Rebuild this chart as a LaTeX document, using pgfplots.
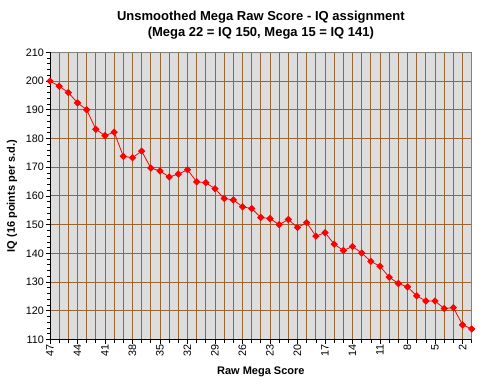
\documentclass[border=0pt]{standalone}
\usepackage{pgfplots}
\pgfplotsset{compat=1.18}
\usepackage{fontspec}
\setmainfont{Liberation Sans}
\definecolor{bggray}{RGB}{221,221,221}
\definecolor{gridbrown}{RGB}{153,102,51}
\definecolor{bordergray}{RGB}{128,128,128}
\begin{document}
\begin{tikzpicture}[x=1pt,y=1pt]
\path[use as bounding box] (-50,-46.5) rectangle (436,339.5);
\begin{axis}[
  at={(0,0)}, anchor=south west,
  scale only axis,
  width=421.7pt, height=287.2pt,
  x dir=reverse,
  xmin=1, xmax=47,
  ymin=110, ymax=210,
  xtick={2,5,...,47},
  minor xtick={1,...,47},
  ytick={110,120,...,210},
  minor ytick={110,112,...,210},
  xmajorgrids=true, xminorgrids=true, ymajorgrids=true,
  grid style={gridbrown, line width=0.9pt},
  minor grid style={gridbrown, line width=0.9pt},
  axis background/.style={fill=bggray},
  axis line style={bordergray, line width=0.9pt},
  tick pos=left,
  tick align=outside,
  major tick length=4pt,
  minor tick length=3pt,
  every tick/.style={black, line width=0.7pt},
  /pgf/number format/assume math mode=true,
  tick label style={font=\fontsize{10.8}{12}\selectfont},
  xticklabel style={rotate=90, anchor=east, inner sep=1pt},
  yticklabel style={inner sep=2pt},
  title={Unsmoothed Mega Raw Score - IQ assignment\\(Mega 22 = IQ 150, Mega 15 = IQ 141)},
  title style={font=\bfseries\fontsize{13}{16}\selectfont, align=center, at={(axis description cs:0.5,1)}, anchor=center, yshift=21pt},
  xlabel={Raw Mega Score},
  xlabel style={font=\bfseries\fontsize{11}{13}\selectfont, at={(axis description cs:0.5,0)}, anchor=center, yshift=-32pt},
  ylabel={IQ (16 points per s.d.)},
  ylabel style={font=\bfseries\fontsize{11}{13}\selectfont, at={(axis description cs:-0.0901,0.5)}, anchor=center},
]
\addplot[red, line width=0.8pt, mark=square*, mark size=2.2pt, mark options={rotate=45, fill=red, draw=red}] coordinates {
(47,200.0) (46,198.2) (45,196.0) (44,192.4) (43,190.0) (42,183.2) (41,181.0) (40,182.2)
(39,173.8) (38,173.3) (37,175.6) (36,169.7) (35,168.7) (34,166.6) (33,167.6) (32,169.1)
(31,164.9) (30,164.6) (29,162.5) (28,159.1) (27,158.6) (26,156.2) (25,155.6) (24,152.5)
(23,152.1) (22,150.0) (21,151.8) (20,149.0) (19,150.7) (18,146.0) (17,147.2) (16,143.2)
(15,141.0) (14,142.4) (13,140.1) (12,137.2) (11,135.5) (10,131.7) (9,129.5) (8,128.3)
(7,125.2) (6,123.4) (5,123.4) (4,120.8) (3,121.1) (2,115.1) (1,113.7)
};
\draw[black, line width=0.9pt] (rel axis cs:0,1) -- (rel axis cs:0,0) -- (rel axis cs:1,0);
\end{axis}
\end{tikzpicture}
\end{document}
